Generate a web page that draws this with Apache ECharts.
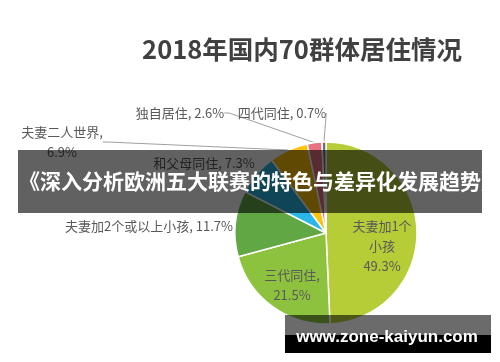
<!DOCTYPE html>
<html>
<head>
<meta charset="utf-8">
<script src="https://cdn.jsdelivr.net/npm/echarts@6/dist/echarts.min.js"></script>
<style>html,body{margin:0;padding:0;background:#fff;}#c{width:500px;height:362px;}</style>
</head>
<body>
<div id="c"></div>
<script>
const titleText = '2018年国内70群体居住情况';
const categories = ['夫妻加1个小孩', '三代同住', '夫妻加2个或以上小孩', '和父母同住', '夫妻二人世界', '独自居住', '四代同住'];
const values = [49.3, 21.5, 11.7, 7.3, 6.9, 2.6, 0.7];
const bannerText = '《深入分析欧洲五大联赛的特色与差异化发展趋势》';
const watermarkText = 'www.zone-kaiyun.com';

const colors = ['#b6cd38', '#8dc23f', '#61a845', '#2bb6e8', '#fcc30a', '#e8727f', '#6f6f6f'];
const labelPos = [
  [382, 246], [292, 285], [149, 226], [204, 163], [62, 142], [180, 113], [282, 113]
];
const FONT = '"Noto Sans CJK SC", "Noto Sans", sans-serif';

const chart = echarts.init(document.getElementById('c'), null, {renderer: 'canvas'});

function fmt(p) {
  const i = p.dataIndex, n = p.name, v = p.value;
  if (i === 0) return n.slice(0, 5) + '\n' + n.slice(5) + '\n' + v + '%';
  if (i === 1 || i === 4) return n + ',\n' + v + '%';
  return n + ', ' + v + '%';
}

const data = categories.map((name, i) => ({
  name: name,
  value: values[i],
  itemStyle: {color: colors[i]},
  label: {position: i < 2 ? 'inside' : 'outside'},
  labelLine: {show: i >= 4}
}));

chart.setOption({
  backgroundColor: '#ffffff',
  animation: false,
  title: {
    text: titleText,
    left: 297,
    textAlign: 'center',
    top: 32,
    textStyle: {fontFamily: FONT, fontSize: 25.5, fontWeight: 'bold', color: '#404040'}
  },
  series: [{
    type: 'pie',
    center: [326, 233],
    radius: 91,
    startAngle: 90,
    clockwise: true,
    data: data,
    itemStyle: {borderColor: '#ffffff', borderWidth: 1.5},
    label: {
      formatter: fmt,
      fontFamily: FONT,
      fontSize: 13,
      color: '#595959',
      lineHeight: 20
    },
    labelLine: {
      length: 5, length2: 5,
      lineStyle: {color: '#a0a0a0', width: 1}
    },
    labelLayout: function (p) {
      const pos = labelPos[p.dataIndex];
      return {x: pos[0], y: pos[1], align: 'center', verticalAlign: 'middle'};
    },
    emphasis: {disabled: true}
  }],
  graphic: [
    {type: 'rect', z: 100, shape: {x: 18, y: 150, width: 464, height: 63}, style: {fill: 'rgba(0,0,0,0.62)'}},
    {type: 'text', z: 101, x: 19, y: 181, style: {text: bannerText, fill: '#ffffff', font: 'bold 21px ' + FONT, textVerticalAlign: 'middle'}},
    {type: 'rect', z: 100, shape: {x: 285, y: 315, width: 206, height: 20}, style: {fill: 'rgba(0,0,0,0.58)'}},
    {type: 'rect', z: 100, shape: {x: 285, y: 335, width: 206, height: 18}, style: {fill: '#000000'}},
    {type: 'text', z: 101, x: 387, y: 337, style: {text: watermarkText, fill: '#ffffff', font: 'bold 17px "Liberation Sans", Arial, sans-serif', textAlign: 'center', textVerticalAlign: 'middle'}}
  ]
});
</script>
</body>
</html>
